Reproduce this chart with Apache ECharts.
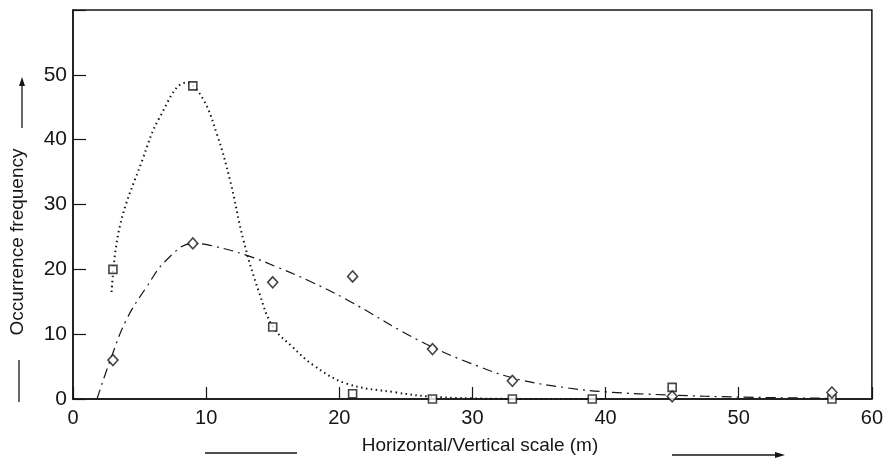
<!DOCTYPE html>
<html><head><meta charset="utf-8">
<script src="https://cdn.jsdelivr.net/npm/echarts@6/dist/echarts.min.js"></script>
<style>html,body{margin:0;padding:0;background:#fff}#c{width:886px;height:463px}</style>
</head><body><div id="c"></div>
<script>
// Measured points (square markers)
const squarePoints = [[3,20],[9,48.3],[15,11.1],[21,0.8],[27,0],[33,0],[39,0],[45,1.8],[51,-0.3],[57,0]];
// Measured points (diamond markers)
const diamondPoints = [[3,6],[9,24],[15,18],[21,18.9],[27,7.7],[33,2.8],[45,0.4],[57,1]];
// Fitted curve through square data (dotted)
const dottedCurve = [[2.9,16.5],[3.5,26.5],[5.2,36.8],[6.5,43.4],[8.5,48.8],[9.7,46.5],[10.8,40.9],[11.8,33.7],[12.8,24.5],[14,16.3],[15,11.2],[16.5,8.0],[18,5.3],[20.5,2.4],[24.3,1.0],[26.7,0.4],[30,0.1],[35,0],[40,0]];
// Fitted curve through diamond data (dash-dot)
const dashDotCurve = [[1.8,0],[2.8,6],[4,12.2],[5.5,17.2],[7,21.4],[9,24],[10.3,23.7],[13,22.2],[15.5,20.2],[17.75,18.2],[20.5,15.4],[26.2,8.8],[30.5,5.0],[33.5,3.0],[37.2,1.7],[40,1.1],[45,0.6],[50,0.3],[57,0.1]];
const xTicks = [0,10,20,30,40,50,60];
const yTicks = [0,10,20,30,40,50];

const ink = '#161616';
const chart = echarts.init(document.getElementById('c'), null, {renderer:'canvas'});
chart.setOption({
  animation:false,
  backgroundColor:'#fff',
  grid:{left:73,top:10,right:11,bottom:64,show:true,borderColor:ink,borderWidth:1.5,backgroundColor:'transparent'},
  xAxis:{type:'value',min:0,max:60,interval:10,
    axisLine:{show:true,lineStyle:{color:ink,width:1.5}},
    axisTick:{show:true,inside:true,length:12,lineStyle:{color:ink,width:1.2}},
    splitLine:{show:false},
    axisLabel:{color:ink,fontSize:20,fontFamily:'Liberation Sans',margin:9,
      formatter:v=>xTicks.includes(v)?String(v):''}},
  yAxis:{type:'value',min:0,max:60,interval:10,
    axisLine:{show:true,lineStyle:{color:ink,width:1.5}},
    axisTick:{show:true,inside:true,length:13,lineStyle:{color:ink,width:1.2}},
    splitLine:{show:false},
    axisLabel:{color:ink,fontSize:21,fontFamily:'Liberation Sans',margin:6,
      formatter:v=>yTicks.includes(v)?String(v):''}},
  series:[
    {type:'line',data:dottedCurve,smooth:0.4,showSymbol:false,symbol:'none',
      lineStyle:{color:ink,width:2,type:[1.5,3.5]},z:2},
    {type:'line',data:dashDotCurve,smooth:0.4,showSymbol:false,symbol:'none',
      lineStyle:{color:ink,width:1.2,type:[10,5,2,5]},z:2},
    {type:'scatter',data:squarePoints,symbol:'rect',symbolSize:8,
      itemStyle:{color:'#fff',borderColor:ink,borderWidth:1.6},z:3},
    {type:'scatter',data:diamondPoints,symbol:'diamond',symbolSize:[10,11],
      itemStyle:{color:'#fff',borderColor:ink,borderWidth:1.6},z:3}
  ],
  graphic:[
    {type:'text',x:18,y:242,rotation:Math.PI/2,style:{text:'Occurrence frequency',fill:ink,font:'19px "Liberation Sans"',align:'center',verticalAlign:'middle'}},
    {type:'line',shape:{x1:22,y1:128,x2:22,y2:82},style:{stroke:ink,lineWidth:1.3}},
    {type:'polygon',shape:{points:[[22,77],[19,86],[25,86]]},style:{fill:ink}},
    {type:'line',shape:{x1:19,y1:360,x2:19,y2:402},style:{stroke:ink,lineWidth:1.3}},
    {type:'text',x:480,y:446,style:{text:'Horizontal/Vertical scale (m)',fill:ink,font:'19px "Liberation Sans"',align:'center',verticalAlign:'middle'}},
    {type:'line',shape:{x1:205,y1:453,x2:297,y2:453},style:{stroke:ink,lineWidth:1.3}},
    {type:'line',shape:{x1:672,y1:455,x2:778,y2:455},style:{stroke:ink,lineWidth:1.3}},
    {type:'polygon',shape:{points:[[785,455],[775,452],[775,458]]},style:{fill:ink}}
  ]
});
</script></body></html>
